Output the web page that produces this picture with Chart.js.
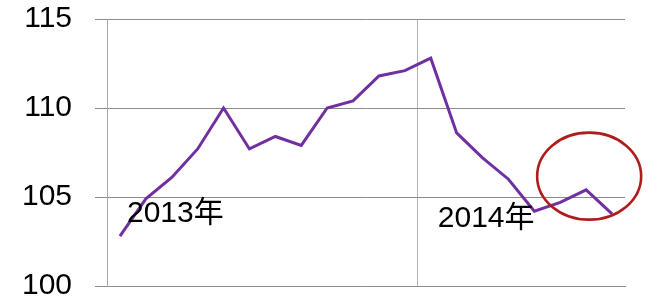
<!DOCTYPE html>
<html>
<head>
<meta charset="utf-8">
<script src="https://cdn.jsdelivr.net/npm/chart.js@4"></script>
<style>
  html, body { margin: 0; padding: 0; background: #fff; }
  #wrap { width: 671px; height: 304px; }
</style>
</head>
<body>
<div id="wrap"><canvas id="chart"></canvas></div>
<script>
// monthly index, Jan 2013 .. Aug 2014
const months = ['1', '2', '3', '4', '5', '6', '7', '8', '9', '10', '11', '12',
                '1', '2', '3', '4', '5', '6', '7', '8'];
const values = [102.8, 104.9, 106.1, 107.7, 110.0, 107.7, 108.4, 107.9, 110.0, 110.4, 111.8, 112.1,
                112.8, 108.6, 107.2, 106.0, 104.2, 104.7, 105.4, 104.05];
const yearLabels = ['2013年', '2014年'];
const yearStart = [0, 12];
const yTicks = [100, 105, 110, 115];

const FONT = '"Liberation Sans", "Noto Sans CJK JP", sans-serif';

// year captions + red circle
const extras = {
    id: 'extras',
    afterDatasetsDraw(chart) {
        const c = chart.ctx;
        const x = chart.scales.x;
        const y = chart.scales.y;
        c.save();
        c.fillStyle = '#000';
        c.font = '30px ' + FONT;
        c.textBaseline = 'middle';
        const yLevel = [104.05, 103.77];
        yearLabels.forEach((txt, i) => {
            const s = yearStart[i];
            const edge = s === 0 ? x.left : (x.getPixelForValue(s - 1) + x.getPixelForValue(s)) / 2;
            c.fillText(txt, edge + 20, y.getPixelForValue(yLevel[i]));
        });
        // circle round the last months
        c.strokeStyle = '#b01c1c';
        c.lineWidth = 2.6;
        c.beginPath();
        c.ellipse(x.getPixelForValue(18) + 3, y.getPixelForValue(106.17), 52, 43.5, 0, 0, Math.PI * 2);
        c.stroke();
        c.restore();
    }
};

new Chart(document.querySelector('#chart'), {
    type: 'line',
    data: {
        labels: months,
        datasets: [
            {
                data: values,
                borderColor: '#7030a0',
                borderWidth: 3,
                pointRadius: 0,
                tension: 0
            }
        ]
    },
    options: {
        responsive: true,
        maintainAspectRatio: false,
        animation: false,
        events: [],
        layout: { padding: { top: 19, right: 46, bottom: 18, left: 0 } },
        plugins: { legend: { display: false }, tooltip: { enabled: false } },
        scales: {
            x: {
                offset: true,
                ticks: { display: false },
                grid: {
                    offset: true,
                    drawTicks: false,
                    color: ctx => ctx.index === 12 ? '#b4b4b4' : 'rgba(0,0,0,0)',
                    lineWidth: 1
                },
                border: { display: true, color: '#8c8c8c' },
                afterFit: s => { s.height = 0; s.paddingLeft = 0; s.paddingRight = 0; }
            },
            y: {
                min: 100,
                max: 115,
                afterBuildTicks: s => { s.ticks = yTicks.map(v => ({ value: v })); },
                ticks: {
                    color: '#000',
                    padding: 23,
                    font: { family: FONT, size: 30 }
                },
                grid: { color: '#8c8c8c', tickLength: 12, lineWidth: 1 },
                border: { display: true, color: '#a6a6a6' },
                afterFit: s => { s.width = 107; s.paddingTop = 0; s.paddingBottom = 0; }
            }
        }
    },
    plugins: [extras]
});
</script>
</body>
</html>
